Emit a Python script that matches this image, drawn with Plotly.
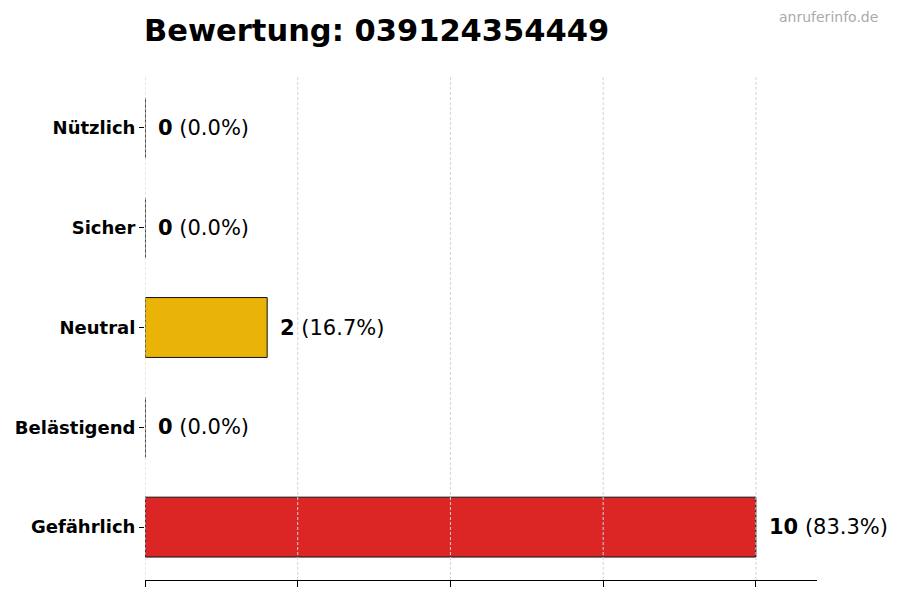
import plotly.graph_objects as go

# Rating categories, bottom to top as they appear on the chart
categories = ['Gefährlich', 'Belästigend', 'Neutral', 'Sicher', 'Nützlich']
counts = [10, 0, 2, 0, 0]
colors = ['#DC2626', '#9CA3AF', '#EAB308', '#3B82F6', '#16A34A']
phone_number = '039124354449'
grid_ticks = [0, 2.5, 5, 7.5, 10]

total = sum(counts)
percents = [c / total * 100 if total else 0 for c in counts]

fig = go.Figure()

fig.add_trace(go.Bar(
    x=counts,
    y=categories,
    orientation='h',
    width=0.6,
    marker=dict(color=colors, line=dict(color='#111111', width=1)),
    # thin edge at the bar base so empty categories still show a stroke
    error_y=dict(type='constant', value=0.3, width=0, thickness=1, color='#333333'),
    hoverinfo='skip',
    showlegend=False,
))

# value labels right of each bar
for cat, c, p in zip(categories, counts, percents):
    fig.add_annotation(
        x=c, y=cat,
        text=f'<b>{c}</b> ({p:.1f}%)',
        showarrow=False,
        xanchor='left',
        xshift=11,
        font=dict(size=21, color='black', family='DejaVu Sans'),
    )

# dashed grid drawn over the bars, like the original
for t in grid_ticks:
    fig.add_shape(
        type='line', xref='x', yref='paper',
        x0=t, x1=t, y0=0, y1=1,
        line=dict(color='#d4d4d4', width=1, dash='3px,2px'),
        layer='above',
    )

fig.add_annotation(
    text='anruferinfo.de',
    xref='paper', yref='paper',
    x=1.0, y=1.0,
    xanchor='right', yanchor='middle',
    xshift=63, yshift=58,
    showarrow=False,
    font=dict(size=14, color='#aaaaaa', family='DejaVu Sans'),
)

fig.update_layout(
    width=900,
    height=600,
    title=dict(
        text=f'<b>Bewertung: {phone_number}</b>',
        x=136 / 900, xanchor='left',
        y=0.963, yanchor='middle',
        font=dict(size=30.5, color='black', family='DejaVu Sans'),
    ),
    margin=dict(l=137, r=91, t=67, b=28, autoexpand=False),
    plot_bgcolor='white',
    paper_bgcolor='white',
    font=dict(family='DejaVu Sans', color='black'),
)

fig.update_xaxes(
    range=[0, 11],
    tick0=0, dtick=2.5,
    showticklabels=False,
    ticks='outside', ticklen=6, tickcolor='black', tickwidth=1,
    showgrid=False,
    zeroline=False,
    showline=True, linecolor='black', linewidth=1,
    layer='above traces',
    automargin=False,
)

fig.update_yaxes(
    categoryorder='array', categoryarray=categories,
    range=[-0.53, 4.53],
    ticks='outside', ticklen=5, tickcolor='black', tickwidth=1,
    showgrid=False, zeroline=False, showline=False,
    tickfont=dict(size=18, color='black', family='DejaVu Sans'),
    tickvals=categories,
    ticktext=[f'<b>{c}</b>' for c in categories],
    automargin=False,
)

fig.write_html('out.html')
